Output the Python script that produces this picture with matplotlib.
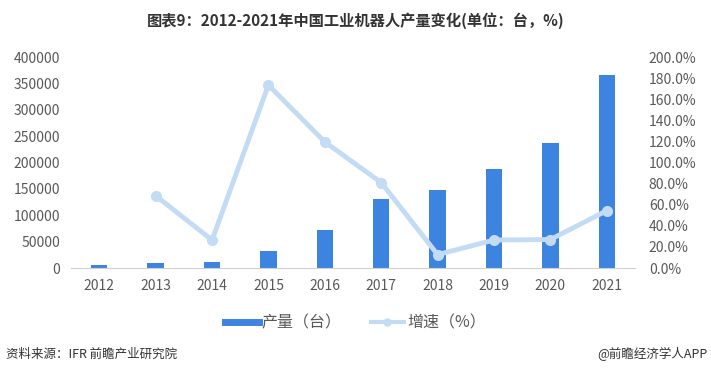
import matplotlib.pyplot as plt
import numpy as np
from matplotlib.ticker import FuncFormatter
from matplotlib.lines import Line2D

plt.rcParams['font.family'] = ['Noto Sans CJK SC', 'DejaVu Sans']

# 数据
years = ['2012', '2013', '2014', '2015', '2016', '2017', '2018', '2019', '2020', '2021']
output = [5000, 9500, 11500, 33000, 72400, 131000, 147700, 186900, 237000, 366000]
growth = [None, 68.5, 26.5, 173.5, 119.5, 81.0, 12.7, 26.5, 27.0, 54.4]

bar_color = '#3c84df'
line_color = '#c3dbf4'
txt_color = '#595959'

fig = plt.figure(figsize=(7.11, 3.73), dpi=100)
ax = fig.add_axes([0.1, 0.2815, 0.793, 0.5655])
ax2 = ax.twinx()

x = np.arange(len(years))
ax.bar(x, output, width=0.29, color=bar_color, zorder=2)

gx = [i for i, g in enumerate(growth) if g is not None]
gy = [g for g in growth if g is not None]
ax2.plot(gx, gy, color=line_color, lw=3.5, marker='o', ms=7, zorder=3)

ax.set_xlim(-0.5, len(years) - 0.5)
ax.set_ylim(0, 400000)
ax.set_yticks(range(0, 400001, 50000))
ax2.set_ylim(0, 200)
ax2.set_yticks(range(0, 201, 20))
ax2.yaxis.set_major_formatter(FuncFormatter(lambda v, p: f'{v:.1f}%'))

ax.set_xticks(x)
ax.set_xticklabels(years)

for a in (ax, ax2):
    for s in a.spines.values():
        s.set_visible(False)
    a.tick_params(length=0, colors=txt_color, labelsize=10)
ax.spines['bottom'].set_visible(True)
ax.spines['bottom'].set_color('#d0d0d0')
ax.tick_params(axis='x', pad=8)
ax.tick_params(axis='y', pad=8)
ax2.tick_params(axis='y', pad=10)

fig.text(0.5, 0.945, '图表9：2012-2021年中国工业机器人产量变化(单位：台，%)',
         ha='center', va='center', fontsize=11, fontweight='bold', color='#333333')

# 图例
handles = [Line2D([], [], color=bar_color, lw=5),
           Line2D([], [], color=line_color, lw=3, marker='o', ms=5)]
fig.legend(handles, ['产量（台）', '增速（%）'], loc='center', bbox_to_anchor=(0.5, 0.135),
           ncol=2, frameon=False, fontsize=11.5, labelcolor=txt_color, handlelength=2.1,
           columnspacing=1.8, handletextpad=0.2)

fig.text(0.008, 0.05, '资料来源：IFR 前瞻产业研究院', ha='left', va='center',
         fontsize=9, color='#333333')
fig.text(0.995, 0.05, '@前瞻经济学人APP', ha='right', va='center',
         fontsize=9, color='#333333')

fig.savefig('out.png', dpi=100)
